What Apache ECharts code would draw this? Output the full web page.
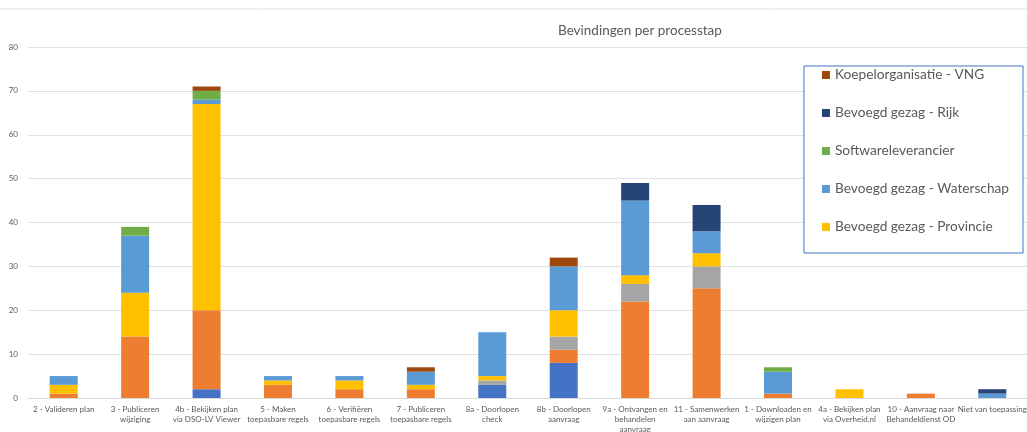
<!DOCTYPE html>
<html><head><meta charset="utf-8">
<script src="https://cdn.jsdelivr.net/npm/echarts@6/dist/echarts.min.js"></script>
<style>html,body{margin:0;padding:0;background:#fff}#c{width:1027px;height:432px}</style>
</head><body><div id="c"></div>
<script>
const categories = ["2 - Valideren plan","3 - Publiceren\nwijziging","4b - Bekijken plan\nvia DSO-LV Viewer","5 - Maken\ntoepasbare regels","6 - Verifiëren\ntoepasbare regels","7 - Publiceren\ntoepasbare regels","8a - Doorlopen\ncheck","8b - Doorlopen\naanvraag","9a - Ontvangen en\nbehandelen\naanvraag","11 - Samenwerken\naan aanvraag","1 - Downloaden en\nwijzigen plan","4a - Bekijken plan\nvia Overheid.nl","10 - Aanvraag naar\nBehandeldienst OD","Niet van toepassing"];
const gemeente      = [0,0,2,0,0,0,3,8,0,0,0,0,0,0];
const initiatief    = [1,14,18,3,2,2,0,3,22,25,1,0,1,0];
const overig        = [0,0,0,0,0,0,1,3,4,5,0,0,0,0];
const provincie     = [2,10,47,1,2,1,1,6,2,3,0,2,0,0];
const waterschap    = [2,13,1,1,1,3,10,10,17,5,5,0,0,1];
const software      = [0,2,2,0,0,0,0,0,0,0,1,0,0,0];
const rijk          = [0,0,0,0,0,0,0,0,4,6,0,0,0,1];
const vng           = [0,0,1,0,0,1,0,2,0,0,0,0,0,0];
const yTicks = [0,10,20,30,40,50,60,70,80];

const seriesDefs = [
  ["Bevoegd gezag - Gemeente", gemeente, "#4472C4"],
  ["Initiatiefnemer", initiatief, "#ED7D31"],
  ["Overig", overig, "#A5A5A5"],
  ["Bevoegd gezag - Provincie", provincie, "#FFC000"],
  ["Bevoegd gezag - Waterschap", waterschap, "#5B9BD5"],
  ["Softwareleverancier", software, "#70AD47"],
  ["Bevoegd gezag - Rijk", rijk, "#264478"],
  ["Koepelorganisatie - VNG", vng, "#9E480E"]
];
const FONT = "Lato, 'Open Sans', sans-serif";
const chart = echarts.init(document.getElementById('c'));
chart.setOption({
  animation:false,
  backgroundColor:'#fff',
  title:{text:'Bevindingen per processtap',left:553,top:19,textStyle:{fontFamily:FONT,fontSize:13.5,fontWeight:'normal',color:'#595959'}},
  graphic:[{type:'line',shape:{x1:0,y1:9,x2:1027,y2:9},style:{stroke:'#e3e3e3',lineWidth:1}}],
  legend:{
    data:["Koepelorganisatie - VNG","Bevoegd gezag - Rijk","Softwareleverancier","Bevoegd gezag - Waterschap","Bevoegd gezag - Provincie"],
    orient:'vertical',right:4,top:66,
    padding:[1,14,18,18],itemGap:22,itemWidth:8,itemHeight:8,icon:'rect',
    borderColor:'#4472C4',borderWidth:1,backgroundColor:'#fff',
    textStyle:{fontFamily:FONT,fontSize:13.7,color:'#595959',lineHeight:16}
  },
  grid:{left:28,top:47,width:1000,height:351,containLabel:false,outerBoundsMode:'none'},
  xAxis:{type:'category',data:categories,
    axisLine:{lineStyle:{color:'#d9d9d9'}},axisTick:{show:false},
    axisLabel:{interval:0,fontFamily:FONT,fontSize:8,color:'#595959',lineHeight:10,margin:6}},
  yAxis:{type:'value',min:0,max:80,interval:10,
    axisLabel:{fontFamily:FONT,fontSize:8,color:'#595959',margin:10,formatter:v=>yTicks.includes(v)?String(v):''},
    splitLine:{lineStyle:{color:'#e0e0e0'}},axisLine:{show:false},axisTick:{show:false}},
  series:seriesDefs.map(([n,d,c])=>({name:n,type:'bar',stack:'a',data:d,barWidth:28,itemStyle:{color:c}}))
});
</script></body></html>
